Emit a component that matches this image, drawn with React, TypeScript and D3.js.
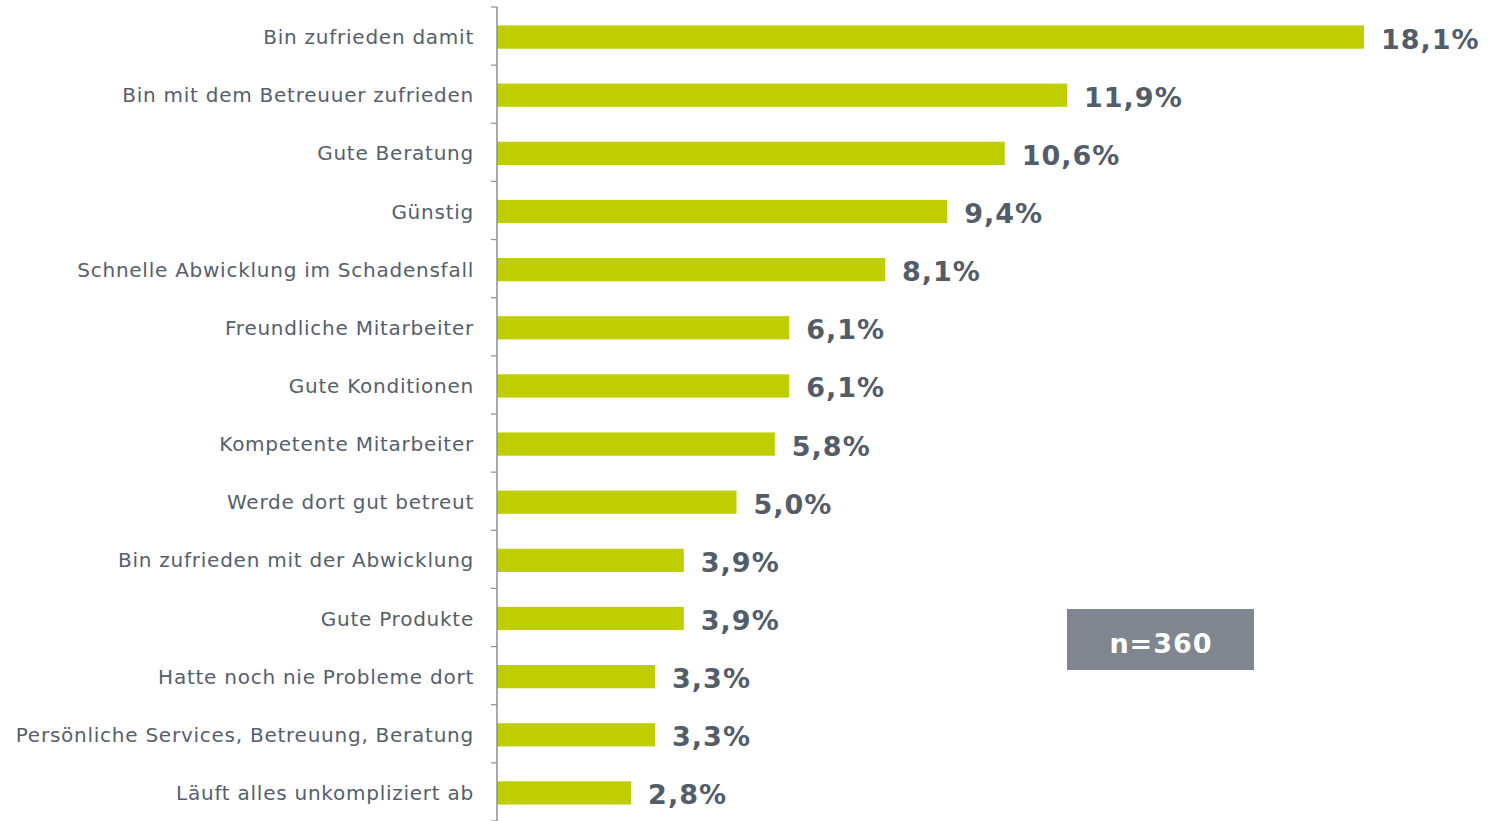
import React, { useEffect } from 'react';
import * as d3 from 'd3';

// chart area in page pixels
const WIDTH = 1488;
const HEIGHT = 821;
const AXIS_X = 497;
const TOP = 7;
const BOTTOM = 821;

const categories = [
  'Bin zufrieden damit',
  'Bin mit dem Betreuuer zufrieden',
  'Gute Beratung',
  'Günstig',
  'Schnelle Abwicklung im Schadensfall',
  'Freundliche Mitarbeiter',
  'Gute Konditionen',
  'Kompetente Mitarbeiter',
  'Werde dort gut betreut',
  'Bin zufrieden mit der Abwicklung',
  'Gute Produkte',
  'Hatte noch nie Probleme dort',
  'Persönliche Services, Betreuung, Beratung',
  'Läuft alles unkompliziert ab',
];

const values = [18.1, 11.9, 10.6, 9.4, 8.1, 6.1, 6.1, 5.8, 5.0, 3.9, 3.9, 3.3, 3.3, 2.8];

const sampleLabel = 'n=360';

const FONT = '"DejaVu Sans", Verdana, sans-serif';

export default function App() {
  useEffect(() => {
    document.body.style.margin = '0';
  }, []);

  const y = d3.scaleBand<string>()
    .domain(categories)
    .range([TOP, BOTTOM])
    .paddingInner(0.6)
    .paddingOuter(0.3);

  const x = d3.scaleLinear().domain([0, 18.1]).range([AXIS_X, 1364]);

  const fmt = (v: number) => d3.format('.1f')(v).replace('.', ',') + '%';

  const step = (BOTTOM - TOP) / categories.length;
  const ticks = d3.range(categories.length + 1).map((i) => TOP + i * step);

  return (
    <svg width={WIDTH} height={HEIGHT} style={{ display: 'block' }} fontFamily={FONT}>
      <rect width={WIDTH} height={HEIGHT} fill="#fff" />
      {categories.map((c, i) => (
        <g key={c}>
          <rect
            x={AXIS_X}
            y={(y(c) ?? 0) + 1}
            width={x(values[i]) - AXIS_X}
            height={y.bandwidth()}
            fill="#bfce00"
          />
          <text
            x={474}
            y={(y(c) ?? 0) + y.bandwidth() / 2 + 1}
            dy="0.35em"
            textAnchor="end"
            fontSize={20}
            letterSpacing={0.75}
            fill="#55606b"
          >
            {c}
          </text>
          <text
            x={x(values[i]) + 17}
            y={(y(c) ?? 0) + y.bandwidth() / 2 + 3}
            dy="0.35em"
            fontSize={27}
            letterSpacing={1}
            fontWeight="bold"
            fill="#525d69"
          >
            {fmt(values[i])}
          </text>
        </g>
      ))}
      <line x1={AXIS_X} x2={AXIS_X} y1={TOP} y2={BOTTOM} stroke="#8a9099" strokeWidth={1.5} />
      {ticks.map((t, i) => (
        <line key={i} x1={AXIS_X - 6} x2={AXIS_X} y1={t} y2={t} stroke="#8a9099" strokeWidth={1.2} />
      ))}
      <rect x={1067} y={609} width={187} height={61} fill="#80868f" />
      <text x={1161} y={644} dy="0.35em" textAnchor="middle" fontSize={27} letterSpacing={1} fontWeight="bold" fill="#fff">
        {sampleLabel}
      </text>
    </svg>
  );
}
